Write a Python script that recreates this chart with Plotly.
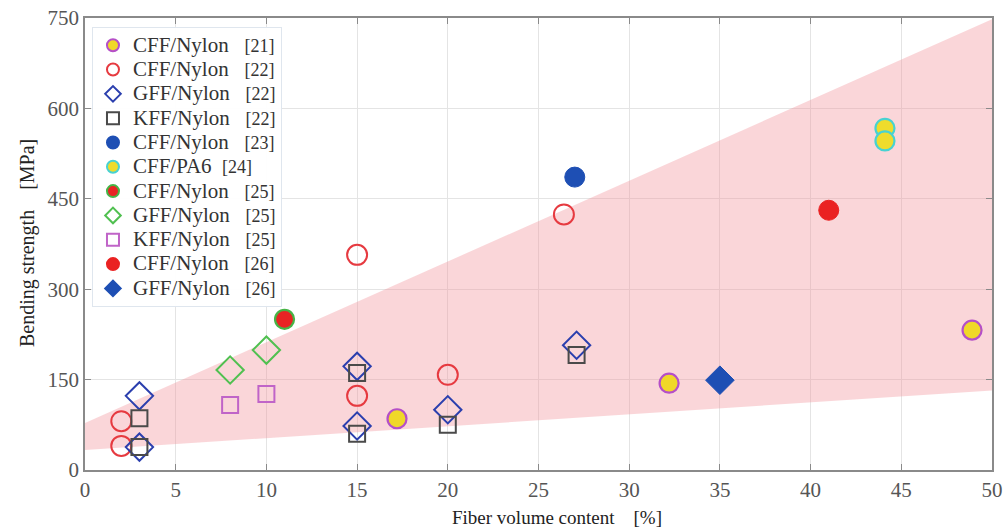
import plotly.graph_objects as go

# Shaded band (lower / upper bound lines)
band_x = [0, 50]
band_lower = [33, 132]
band_upper = [78, 748]

# Series data
r21_x = [17.2, 32.2, 48.9]; r21_y = [85, 144, 232]
r22c_x = [2, 2, 15, 15, 20, 26.4]; r22c_y = [81, 40, 123, 357, 158, 424]
r22g_x = [3, 3, 15, 15, 20, 27.1]; r22g_y = [123, 38, 172, 73, 100, 207]
r22k_x = [3, 3, 15, 15, 20, 27.1]; r22k_y = [86, 38, 161, 60, 75, 191]
r23_x = [27.0]; r23_y = [486]
r24_x = [44.1, 44.1]; r24_y = [567, 546]
r25c_x = [11.0]; r25c_y = [250]
r25g_x = [8, 10]; r25g_y = [166, 199]
r25k_x = [8, 10]; r25k_y = [108, 126]
r26c_x = [41.0]; r26c_y = [431]
r26g_x = [35.0]; r26g_y = [149]

x_ticks = list(range(0, 51, 5))
y_ticks = [0, 150, 300, 450, 600, 750]

FONT = "Liberation Serif"
sp = "\u00a0"


def label(name, ref, gap=3):
    return ("<span style='font-size:21px'>" + name + sp * gap + "</span>"
            + "<span style='font-size:18px'>" + ref + "</span>")


fig = go.Figure()

fig.add_trace(go.Scatter(
    x=band_x + band_x[::-1], y=band_upper + band_lower[::-1],
    fill="toself", fillcolor="rgba(240,140,150,0.36)", mode="lines",
    line=dict(width=0), showlegend=False, hoverinfo="skip"))


def add(x, y, name, symbol, color, size, line_color=None, line_width=2):
    marker = dict(symbol=symbol, size=size, color=color,
                  line=dict(color=line_color if line_color else color, width=line_width))
    fig.add_trace(go.Scatter(x=x, y=y, mode="markers", name=name, marker=marker))


add(r21_x, r21_y, label("CFF/Nylon", "[21]"), "circle", "#f0d828", 19, "#b54fc8", 2.2)
add(r22c_x, r22c_y, label("CFF/Nylon", "[22]"), "circle-open", "#e63a40", 20, None, 2)
add(r22g_x, r22g_y, label("GFF/Nylon", "[22]"), "diamond-open", "#2b3fae", 21, None, 2)
add(r22k_x, r22k_y, label("KFF/Nylon", "[22]"), "square-open", "#4a4a4a", 16, None, 2)
add(r23_x, r23_y, label("CFF/Nylon", "[23]"), "circle", "#1e4fb4", 20, "#1e4fb4", 1)
add(r24_x, r24_y, label("CFF/PA6", "[24]", 2), "circle", "#eedc2c", 19, "#48d2d2", 2.2)
add(r25c_x, r25c_y, label("CFF/Nylon", "[25]"), "circle", "#e82424", 19, "#46b446", 2.2)
add(r25g_x, r25g_y, label("GFF/Nylon", "[25]"), "diamond-open", "#50c050", 21, None, 2)
add(r25k_x, r25k_y, label("KFF/Nylon", "[25]"), "square-open", "#c064c8", 16, None, 2)
add(r26c_x, r26c_y, label("CFF/Nylon", "[26]"), "circle", "#ea2222", 20, "#ea2222", 1)
add(r26g_x, r26g_y, label("GFF/Nylon", "[26]"), "diamond", "#1e4fb4", 22, "#1e4fb4", 1)

axis_common = dict(
    showgrid=True, gridcolor="#e4e4e4", gridwidth=1,
    showline=True, linecolor="#8a8a8a", linewidth=1.5, mirror="ticks",
    ticks="inside", ticklen=6, tickcolor="#8a8a8a",
    tickfont=dict(family=FONT, size=21, color="#555555"),
    ticklabeloverflow="allow",
    zeroline=False,
)

fig.update_xaxes(range=[0, 50], tickvals=x_ticks, **axis_common)
fig.update_yaxes(range=[0, 750], tickvals=y_ticks, **axis_common)

fig.add_annotation(text="Fiber volume content" + sp * 4 + "[%]",
                   xref="paper", yref="paper", x=0.520, y=-0.106,
                   xanchor="center", yanchor="middle", showarrow=False,
                   font=dict(family=FONT, size=19, color="#222"))
fig.add_annotation(text="Bending strength" + sp * 4 + "[MPa]",
                   xref="paper", yref="paper", x=-0.064, y=0.502,
                   xanchor="center", yanchor="middle", showarrow=False, textangle=-90,
                   font=dict(family=FONT, size=20, color="#222"))

fig.update_layout(
    width=1006, height=532,
    margin=dict(l=85, r=14, t=18, b=62, autoexpand=False),
    plot_bgcolor="white", paper_bgcolor="white",
    font=dict(family=FONT),
    legend=dict(x=0.0077, y=0.980, xanchor="left", yanchor="top",
                bgcolor="rgba(255,255,255,0.95)", bordercolor="#dfe6ee", borderwidth=1,
                font=dict(family=FONT, size=16.4, color="#333333"),
                itemsizing="constant", tracegroupgap=0),
)

fig.write_html("out.html", config={"displayModeBar": False},
               post_script="document.body.style.margin='0';")
